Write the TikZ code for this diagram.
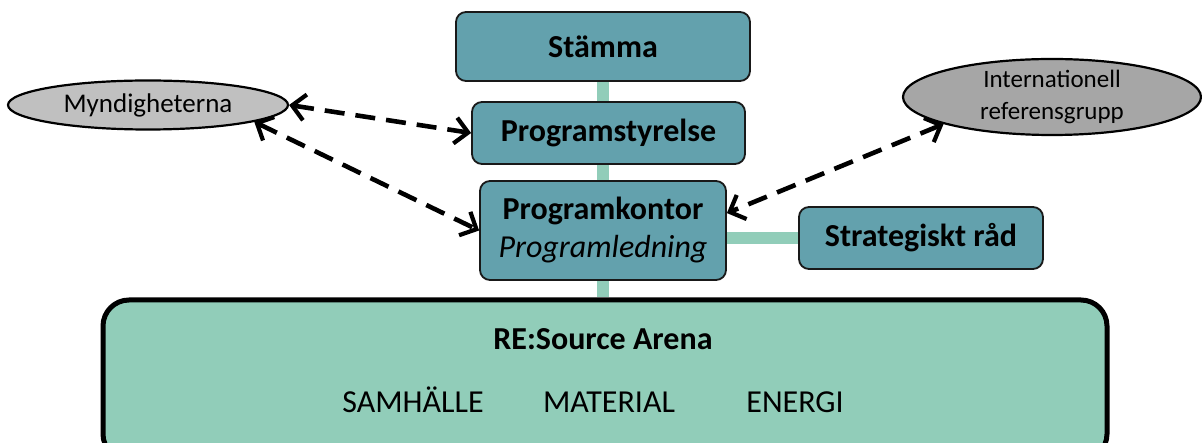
\documentclass[tikz,border=0pt]{standalone}
\usepackage{fontspec}
\setmainfont{Carlito}
\usetikzlibrary{arrows.meta,backgrounds,calc,shapes.geometric}
\definecolor{boxteal}{RGB}{99,161,173}
\definecolor{arenagreen}{RGB}{145,205,185}
\definecolor{lightgr}{RGB}{192,192,192}
\definecolor{midgr}{RGB}{166,166,166}
\definecolor{edgedark}{RGB}{25,25,25}
\tikzset{
  orgbox/.style={draw=edgedark, line width=1.8pt, fill=boxteal, rounded corners=10pt,
    inner sep=0pt, align=center, font=\fontsize{32}{38}\selectfont\bfseries},
  oval/.style={draw=black, line width=2.2pt, ellipse, inner sep=0pt, align=center},
  arenatext/.style={anchor=base, font=\fontsize{32}{38}\selectfont},
  link/.style={draw=arenagreen, line width=12pt},
  mybarb/.tip={Straight Barb[length=13pt,width=26pt,line width=4.2pt]},
  dasharrow/.style={line width=4.6pt, dash pattern=on 20pt off 11pt, mybarb-mybarb}
}
\begin{document}
\begin{tikzpicture}[x=1pt,y=-1pt]
\useasboundingbox (0,0) rectangle (1202,443);
% boxes
\node[orgbox, minimum width=294pt, minimum height=69pt] (stamma) at (603,46.5) {Stämma};
\node[orgbox, minimum width=273pt, minimum height=62pt] (styr) at (608.5,133) {Programstyrelse};
\node[orgbox, minimum width=246pt, minimum height=99pt] (kontor) at (603,230.5)
  {Programkontor\\[0pt]{\mdseries\itshape Programledning}};
\node[orgbox, minimum width=244pt, minimum height=62pt] (strat) at (921,238) {Strategiskt råd};
\node[draw=black, line width=5pt, fill=arenagreen, rounded corners=26pt,
  minimum width=1004pt, minimum height=160pt, inner sep=0pt] (arena) at (605,380) {};
\node[arenatext, font=\fontsize{32}{38}\selectfont\bfseries] (arenatitle) at (603,350) {RE:Source Arena};
\node[arenatext] (samh) at (413,412) {SAMHÄLLE};
\node[arenatext] (mat) at (609,412) {MATERIAL};
\node[arenatext] (energi) at (795,412) {ENERGI};
% ellipses
\node[oval, fill=lightgr, minimum width=280pt, minimum height=49pt,
  font=\fontsize{27}{32}\selectfont] (mynd) at (148,105) {Myndigheterna};
\node[oval, fill=midgr, minimum width=298pt, minimum height=76pt,
  font=\fontsize{25}{32}\selectfont] (intl) at (1052,97)
  {Internationell\\referensgrupp};
% connectors behind
\begin{scope}[on background layer]
\draw[link] (stamma.south) -- (arena.north -| stamma.south);
\draw[link] (strat.west) -- (strat.west -| kontor.east);
\end{scope}
% dashed arrows
\draw[dasharrow] (mynd.east) -- (styr.west);
\draw[dasharrow] (mynd.-9) -- (kontor.west);
\draw[dasharrow] (intl.194) -- (kontor.8);
\end{tikzpicture}
\end{document}
